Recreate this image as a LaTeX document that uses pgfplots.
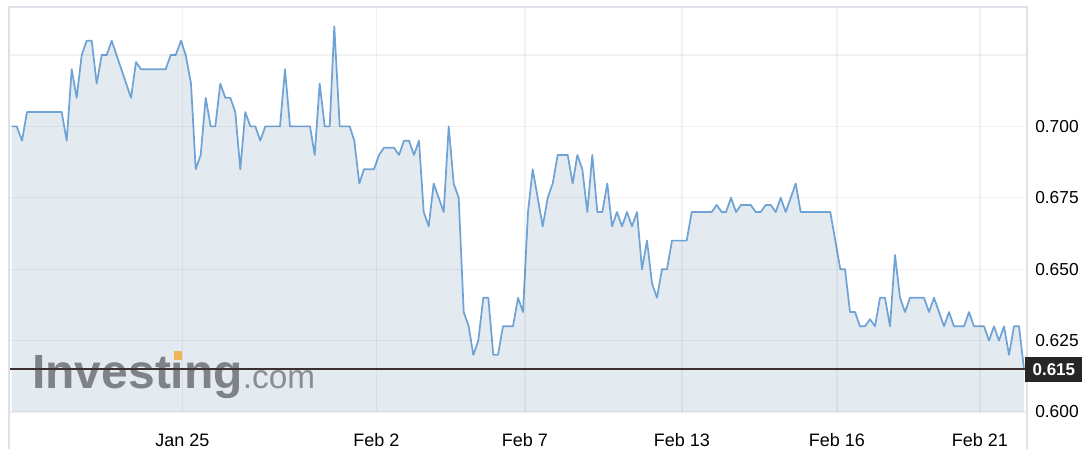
\documentclass[border=0pt]{standalone}
\usepackage{pgfplots}
\usepackage{pgfplotstable}
\pgfplotsset{compat=1.18}
\usepackage{fontspec}
\setmainfont{Liberation Sans}
\definecolor{linec}{HTML}{6FA3D6}
\definecolor{fillc}{HTML}{E3EBF1}
\definecolor{borderc}{HTML}{DDE1E8}
\definecolor{wmc}{HTML}{7F8389}
\definecolor{wmc2}{HTML}{8A8E93}
\definecolor{orangec}{HTML}{EDB45A}
\definecolor{refc}{HTML}{3D3030}
\definecolor{boxc}{HTML}{262626}
\pgfplotstableread{
x y
11.7 0.700
16.7 0.700
22 0.695
27 0.705
61.7 0.705
66.7 0.695
71.7 0.720
76.7 0.710
81.7 0.725
86.7 0.730
91.7 0.730
96.7 0.715
101.7 0.725
106.7 0.725
111.7 0.730
131 0.710
136 0.7225
141 0.720
165.7 0.720
170.7 0.725
175.7 0.725
181 0.730
185.7 0.725
191 0.715
195.7 0.685
200.7 0.690
205.7 0.710
210.7 0.700
215.3 0.700
220.3 0.715
225.3 0.710
230.3 0.710
235.3 0.705
240.3 0.685
245.3 0.705
250.3 0.700
255.3 0.700
260.3 0.695
265.3 0.700
280 0.700
285 0.720
290 0.700
310 0.700
314.7 0.690
319.7 0.715
324.7 0.700
329.7 0.700
334.3 0.735
339.7 0.700
349.7 0.700
354.3 0.695
359.3 0.680
364 0.685
374 0.685
379 0.690
384 0.6925
394 0.6925
399 0.690
404 0.695
409 0.695
414 0.690
419 0.695
423.7 0.670
428.7 0.665
433.7 0.680
443.7 0.670
448.7 0.700
453.7 0.680
458.7 0.675
463.7 0.635
468.7 0.630
473.3 0.620
478.3 0.625
483.3 0.640
488.3 0.640
493.3 0.620
498 0.620
503 0.630
513 0.630
518 0.640
523 0.635
528 0.670
532.7 0.685
542.7 0.665
547.7 0.675
552.7 0.680
557.7 0.690
567.7 0.690
572.7 0.680
577.3 0.690
582.3 0.685
587.3 0.670
592.3 0.690
597.3 0.670
602.3 0.670
607.3 0.680
612 0.665
617 0.670
622 0.665
627 0.670
632 0.665
637 0.670
642 0.650
647 0.660
652 0.645
657 0.640
662 0.650
667 0.650
672 0.660
686.7 0.660
691.7 0.670
711.7 0.670
716.7 0.6725
721.7 0.670
726 0.670
731 0.675
736 0.670
741 0.6725
750.7 0.6725
755.7 0.670
760.7 0.670
765.7 0.6725
770.7 0.6725
775.7 0.670
780.7 0.675
785.7 0.670
795.7 0.680
800.7 0.670
830.3 0.670
840.3 0.650
845 0.650
850 0.635
855 0.635
860 0.630
865 0.630
870 0.6325
875 0.630
880 0.640
885 0.640
890 0.630
895 0.655
900 0.640
905 0.635
910 0.640
924 0.640
929 0.635
934 0.640
944 0.630
949 0.635
954 0.630
964 0.630
969 0.635
974 0.630
984 0.630
989 0.625
994 0.630
999 0.625
1004 0.630
1009 0.620
1014 0.630
1019 0.630
1024 0.615
}\pricedata
\begin{document}
\begin{tikzpicture}
\useasboundingbox (0,0) rectangle (811.5pt,336.75pt);
\begin{axis}[
  name=ax,
  at={(6.75pt,27.75pt)}, anchor=south west,
  scale only axis, width=763.5pt, height=303.75pt,
  xmin=9, xmax=1027, ymin=0.6, ymax=0.7418,
  axis line style={draw=none},
  axis on top,
  xtick={182.5,376.5,525,682,837,980},
  xticklabels={Jan 25,Feb 2,Feb 7,Feb 13,Feb 16,Feb 21},
  ytick={0.6,0.625,0.65,0.675,0.7,0.725},
  yticklabels={0.600,0.625,0.650,0.675,0.700,{}},
  yticklabel pos=right,
  major tick length=0pt,
  xmajorgrids, ymajorgrids,
  grid style={black, opacity=0.05, line width=1pt},
  xticklabel style={font=\fontsize{13.5}{14}\selectfont, anchor=base, inner sep=0pt, yshift=-26.25pt},
  yticklabel style={font=\fontsize{13}{14}\selectfont, anchor=west, inner sep=0pt, xshift=6pt},
]
\addplot[draw=none, fill=fillc] table[x=x,y=y] {\pricedata} \closedcycle;
\node[anchor=base west, inner sep=0pt, text=wmc, font=\bfseries\fontsize{36}{36}\selectfont] at (axis cs:32,0.6084) {Investing{\mdseries\fontsize{25}{25}\selectfont\color{wmc2}.com}};
\fill[fillc] (axis cs:172,0.6180) rectangle (axis cs:185,0.6215);
\fill[orangec] (axis cs:174,0.6182) rectangle (axis cs:182,0.6212);
\addplot[linec, line width=1.3pt, line join=round] table[x=x,y=y] {\pricedata};
\addplot[refc, line width=1.1pt] coordinates {(9,0.615) (1027,0.615)};
\coordinate (p615) at (axis cs:1025,0.615);
\end{axis}
\draw[borderc, line width=1pt] ([yshift=-40pt]ax.south west) -- (ax.north west) -- (ax.north east) -- ([yshift=-40pt]ax.south east);
\node[fill=boxc, text=white, font=\bfseries\fontsize{12.75}{13}\selectfont, anchor=west, inner xsep=5.5pt, inner ysep=0pt, minimum height=18.75pt] at (p615) {0.615};
\end{tikzpicture}
\end{document}
